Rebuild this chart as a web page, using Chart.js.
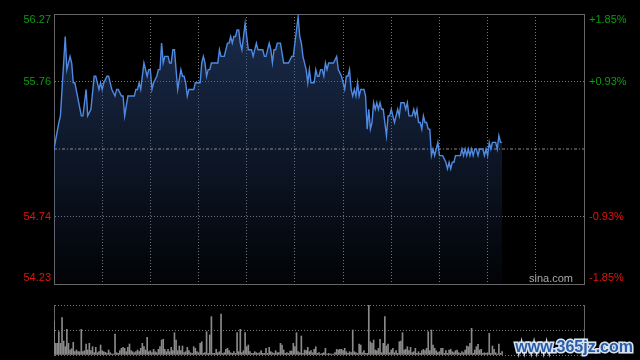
<!DOCTYPE html>
<html>
<head>
<meta charset="utf-8">
<script src="https://cdn.jsdelivr.net/npm/chart.js@4.4.1/dist/chart.umd.min.js"></script>
<style>
  html, body { margin: 0; padding: 0; background: #000; }
  #wrap { position: relative; width: 640px; height: 360px; overflow: hidden; background: #000; }
  canvas { position: absolute; left: 0; }
  #priceChart { top: 0; }
  #volChart { top: 292px; }
</style>
</head>
<body>
<div id="wrap">
  <canvas id="priceChart" width="640" height="292"></canvas>
  <canvas id="volChart" width="640" height="68"></canvas>
</div>
<script>
/* Intraday minute chart (HK session, 330 minutes) */

const prevClose = 55.25;
const sessionMinutes = 330;
const gridMinutes = [0, 30, 60, 90, 120, 150, 180, 210, 240, 270, 300, 330];
const priceTicks = [54.23, 54.74, 55.25, 55.76, 56.27];
const pctTicks = ['-1.85%', '-0.93%', '0.00%', '+0.93%', '+1.85%'];
const volTicks = [0, 25, 50];

// turning points of the price line (minute from open, price)
const priceMinutes = [0, 3, 4, 7, 8, 10, 11, 12, 13, 17, 18, 20, 21, 23, 25, 26, 28, 29, 30, 31,
  33, 34, 35, 36, 38, 39, 40, 42, 43, 44, 46, 50, 51, 52, 53, 54, 56, 58, 59, 60,
  61, 62, 64, 65, 66, 67, 68, 69, 71, 72, 73, 74, 75, 77, 79, 80, 81, 82, 83, 84,
  87, 88, 91, 92, 93, 94, 95, 96, 97, 98, 102, 103, 104, 106, 107, 108, 109, 110, 111, 112,
  113, 114, 115, 116, 117, 119, 121, 123, 124, 126, 127, 130, 131, 132, 134, 135, 136, 137, 138, 139,
  141, 143, 146, 148, 149, 152, 153, 154, 155, 157, 158, 159, 160, 162, 163, 164, 165, 166, 167, 168,
  169, 170, 171, 174, 176, 177, 179, 180, 181, 182, 183, 184, 185, 186, 187, 188, 189, 190, 191, 193,
  194, 195, 196, 197, 198, 199, 200, 201, 202, 203, 204, 205, 207, 208, 209, 210, 211, 212, 213, 214,
  215, 216, 218, 219, 220, 221, 223, 224, 225, 226, 227, 228, 229, 230, 231, 232, 233, 234, 235, 236,
  237, 238, 239, 240, 242, 244, 245, 246, 247, 248, 249, 250, 253, 254, 255, 256, 257, 258, 259, 260,
  261, 262, 263, 264, 265, 267, 268, 269, 270, 271, 272, 273, 275, 276, 277, 278, 279];

const prices = [55.25, 55.45, 55.50, 56.10, 55.85, 55.95, 55.90, 55.75, 55.75, 55.50, 55.50, 55.70, 55.50, 55.55, 55.80, 55.80, 55.70, 55.75, 55.70, 55.75,
  55.80, 55.80, 55.75, 55.70, 55.65, 55.70, 55.70, 55.65, 55.65, 55.50, 55.65, 55.65, 55.70, 55.70, 55.75, 55.70, 55.90, 55.80, 55.85, 55.85,
  55.70, 55.75, 55.80, 55.85, 55.85, 56.05, 55.90, 55.95, 55.95, 55.90, 55.90, 56.00, 56.00, 55.70, 55.85, 55.80, 55.80, 55.75, 55.65, 55.70,
  55.70, 55.75, 55.75, 55.90, 55.95, 55.90, 55.80, 55.85, 55.85, 55.90, 55.90, 56.00, 55.95, 55.95, 56.00, 56.05, 56.05, 56.10, 56.05, 56.10,
  56.10, 56.15, 56.15, 56.05, 56.00, 56.20, 56.00, 56.00, 55.95, 56.05, 56.00, 56.00, 55.95, 55.95, 56.05, 56.00, 55.90, 56.00, 56.00, 56.05,
  56.05, 55.90, 55.90, 55.95, 55.95, 56.25, 56.10, 56.05, 55.95, 55.85, 55.75, 55.85, 55.75, 55.75, 55.85, 55.80, 55.80, 55.85, 55.85, 55.80,
  55.90, 55.85, 55.90, 55.90, 55.95, 55.85, 55.80, 55.75, 55.70, 55.80, 55.80, 55.85, 55.70, 55.65, 55.70, 55.65, 55.75, 55.65, 55.70, 55.70,
  55.65, 55.40, 55.55, 55.40, 55.45, 55.60, 55.55, 55.60, 55.55, 55.60, 55.55, 55.55, 55.35, 55.50, 55.50, 55.55, 55.50, 55.45, 55.50, 55.55,
  55.50, 55.60, 55.60, 55.55, 55.60, 55.50, 55.50, 55.55, 55.50, 55.55, 55.45, 55.45, 55.40, 55.50, 55.45, 55.45, 55.40, 55.40, 55.20, 55.25,
  55.20, 55.25, 55.30, 55.20, 55.20, 55.15, 55.10, 55.15, 55.10, 55.15, 55.15, 55.20, 55.20, 55.25, 55.20, 55.25, 55.20, 55.25, 55.20, 55.25,
  55.20, 55.25, 55.25, 55.20, 55.25, 55.25, 55.20, 55.25, 55.20, 55.30, 55.25, 55.30, 55.30, 55.25, 55.35, 55.30, 55.30];

// volume per minute from the open (relative units, 50 = top of panel)
const volumes = [33.3, 11.7, 11.7, 23.3, 11.7, 37.3, 14, 8.3, 25.7, 11.7,
  5, 6.3, 12.7, 3.3, 5, 3.3, 3.3, 25.7, 3.3, 4.3,
  11, 5, 11.7, 4.3, 8.3, 2.3, 7.7, 2.3, 3.3, 10,
  4.3, 3.3, 2.7, 1.7, 5, 2.3, 1, 1, 21, 2.3,
  1.7, 4.3, 6.7, 7.7, 6.7, 3.3, 7.7, 11, 4.3, 3.3,
  2.3, 3.3, 5, 3.3, 6.7, 11.7, 8.3, 5, 17.7, 3.3,
  4.3, 2.3, 5.7, 3.3, 2.3, 5.7, 8.3, 15, 15.7, 5.7,
  3.3, 5.7, 3.3, 7.7, 4.3, 22.3, 15, 4.3, 9, 4.3,
  9, 2.3, 3.3, 7.7, 4.3, 2.3, 1.7, 8.3, 6.7, 3.3,
  2.3, 11.7, 13.3, 1.7, 2.3, 23.3, 1.7, 20, 38.3, 1.7,
  1.7, 5.7, 2.3, 3.3, 41, 1.7, 2.3, 5.7, 6.7, 4.3,
  2.3, 1.7, 3.3, 1.7, 22.3, 3.3, 25.7, 2.3, 4.3, 22.3,
  8.3, 10, 3.3, 1.7, 1.7, 3.3, 2.3, 1.7, 2.3, 4.3,
  1.7, 1.7, 6.7, 1.7, 7.7, 3.3, 2.3, 1.7, 4.3, 2.3,
  2.3, 11.7, 10, 5, 1.7, 2.3, 1.7, 4, 4, 11.7,
  8.3, 22.3, 3.3, 2.3, 19, 1.7, 5, 4.3, 7.7, 3.3,
  4.3, 2.3, 5.7, 8.3,
  1.7, 2.3, 1, 1.7, 2.3, 6.7, 1, 1.7, 1, 1, 1, 2.3,
  5.7, 5, 5.7, 5.7, 4.3, 6.7, 3.3, 1.7, 3.3, 2.3, 25, 3.3,
  2.3, 1.7, 11, 10, 2.3, 4.3, 1.7, 1.7, 50, 13.3,
  11.7, 15, 5, 4.3, 6.7, 15.7, 2.3, 11.7, 38.3, 9,
  11, 2.3, 5, 6.7, 2.3, 4.3, 1.7, 13.3, 14, 22.3,
  5, 5.7, 8.3, 4.3, 7.7, 2.3, 3.3, 6.7, 1.7, 3.3,
  1.7, 4.3, 5.7, 4.3, 6.7, 23.3, 4.3, 25, 10, 6.7,
  4.3, 2.3, 3.3, 6.7, 6.7, 1.7, 4.3, 1.7, 5, 5.7,
  3.3, 2.3, 4.3, 5, 2.3, 1.7, 3.3, 2.3, 5, 9, 8.3, 11.7,
  26.7, 1.7, 5, 8.3, 10.7, 5, 5.7, 1.7, 2.3, 1.7,
  2.3, 21.7, 1.7, 9, 5.7, 2.3, 1, 11, 1.7, 3.3];

const GREEN = '#0c9c0c';
const RED = '#e3140f';
const GRID = '#777';
const FRAME = '#666';
const FONT = '"Liberation Sans", Arial, sans-serif';

Chart.defaults.font.family = FONT;
Chart.defaults.font.size = 11;
Chart.defaults.animation = false;
Chart.defaults.responsive = false;
Chart.defaults.devicePixelRatio = 1;
Chart.defaults.plugins.legend.display = false;
Chart.defaults.plugins.tooltip.enabled = false;

// price and percent labels on both sides, plus the source mark
const priceLabels = {
  id: 'priceLabels',
  afterDraw(chart) {
    const { ctx, chartArea, scales: { y } } = chart;
    ctx.save();
    ctx.font = '11px ' + FONT;
    ctx.textBaseline = 'middle';
    priceTicks.forEach((v, i) => {
      if (v === prevClose) return;
      let py = y.getPixelForValue(v);
      if (i === priceTicks.length - 1) py += 6;
      if (i === 0) py -= 6;
      ctx.fillStyle = v > prevClose ? GREEN : RED;
      ctx.textAlign = 'right';
      ctx.fillText(v.toFixed(2), chartArea.left - 3, py);
      ctx.textAlign = 'left';
      ctx.fillText(pctTicks[i], chartArea.right + 5, py);
    });
    ctx.fillStyle = '#a8a8a8';
    ctx.textAlign = 'right';
    ctx.fillText('sina.com', chartArea.right - 11, chartArea.bottom - 5);
    ctx.restore();
  }
};

const watermark = {
  id: 'watermark',
  afterDraw(chart) {
    const { ctx } = chart;
    ctx.save();
    ctx.font = 'bold 16px ' + FONT;
    ctx.textAlign = 'right';
    ctx.textBaseline = 'alphabetic';
    ctx.lineWidth = 3;
    ctx.strokeStyle = '#d8e4f4';
    ctx.strokeText('www.365jz.com', 633, 60);
    ctx.fillStyle = '#2b5ca6';
    ctx.fillText('www.365jz.com', 633, 60);
    ctx.restore();
  }
};

function fillGradient(c) {
  const { ctx, chartArea } = c.chart;
  if (!chartArea) return 'rgba(0,0,0,0)';
  const g = ctx.createLinearGradient(0, chartArea.top, 0, chartArea.bottom);
  g.addColorStop(0, 'rgba(48,80,140,0.55)');
  g.addColorStop(1, 'rgba(48,80,140,0.04)');
  return g;
}

const frameAxis = (axis, position) => ({
  axis, position, min: 0, max: 1,
  ticks: { display: false },
  grid: { display: false, drawTicks: false },
  border: { display: true, color: FRAME }
});

new Chart(document.getElementById('priceChart'), {
  type: 'line',
  data: {
    datasets: [
      {
        label: 'price',
        data: priceMinutes.map((m, i) => ({ x: m, y: prices[i] })),
        borderColor: '#4f8ae2',
        borderWidth: 1.4,
        pointRadius: 0,
        tension: 0,
        fill: 'start',
        backgroundColor: fillGradient,
        order: 0
      },
      {
        label: 'prev close',
        data: [{ x: 0, y: prevClose }, { x: sessionMinutes, y: prevClose }],
        borderColor: '#8a8a8a',
        borderWidth: 1,
        borderDash: [3, 2, 1, 2],
        pointRadius: 0,
        fill: false,
        order: 1
      }
    ]
  },
  options: {
    layout: { padding: { left: 54, right: 56, top: 14, bottom: 8 } },
    plugins: { filler: { drawTime: 'beforeDatasetsDraw' } },
    scales: {
      x: {
        type: 'linear', min: 0, max: sessionMinutes, offset: false,
        afterBuildTicks: s => { s.ticks = gridMinutes.map(v => ({ value: v })); },
        ticks: { display: false },
        grid: { color: GRID, drawTicks: false },
        border: { display: true, color: FRAME, dash: [1, 2] }
      },
      y: {
        min: priceTicks[0], max: priceTicks[priceTicks.length - 1],
        afterBuildTicks: s => { s.ticks = priceTicks.map(v => ({ value: v })); },
        ticks: { display: false },
        grid: {
          color: c => (c.tick && c.tick.value === prevClose) ? 'rgba(0,0,0,0)' : GRID,
          drawTicks: false
        },
        border: { display: true, color: FRAME, dash: [1, 2] }
      },
      xTop: frameAxis('x', 'top'),
      yRight: frameAxis('y', 'right')
    }
  },
  plugins: [priceLabels]
});

new Chart(document.getElementById('volChart'), {
  type: 'bar',
  data: {
    datasets: [{
      label: 'volume',
      data: volumes.map((v, i) => ({ x: i, y: v })),
      backgroundColor: '#8a8a8a',
      barThickness: 1
    }]
  },
  options: {
    layout: { padding: { left: 54, right: 56, top: 13, bottom: 5 } },
    scales: {
      x: {
        type: 'linear', min: 0, max: sessionMinutes, offset: false,
        ticks: { display: false },
        grid: { display: false, drawTicks: false, offset: false },
        border: { display: false }
      },
      y: {
        min: volTicks[0], max: volTicks[volTicks.length - 1],
        afterBuildTicks: s => { s.ticks = volTicks.map(v => ({ value: v })); },
        ticks: { display: false },
        grid: { color: GRID, drawTicks: false },
        border: { display: true, color: FRAME, dash: [1, 2] }
      },
      yRight: frameAxis('y', 'right')
    }
  },
  plugins: [watermark]
});
</script>
</body>
</html>
